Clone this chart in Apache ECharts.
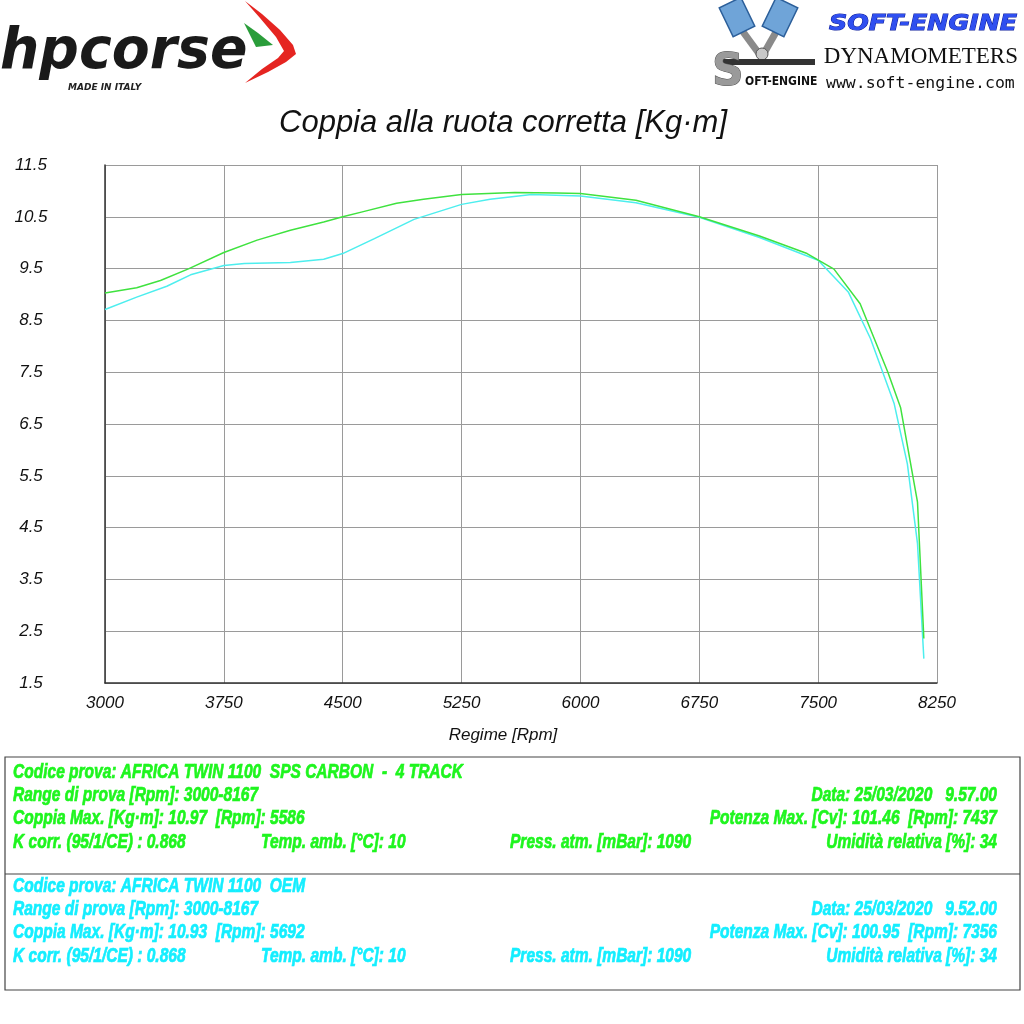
<!DOCTYPE html>
<html>
<head>
<meta charset="utf-8">
<script src="https://cdn.jsdelivr.net/npm/echarts/dist/echarts.min.js"></script>
<style>
html,body{margin:0;padding:0;background:#fff;}
#chart{width:1024px;height:1024px;}
</style>
</head>
<body>
<div id="chart"></div>
<script>
// ---- Data ----
const rpmSps = [3000,3200,3350,3530,3750,3960,4170,4380,4500,4630,4840,5010,5250,5586,5850,6000,6350,6750,7130,7430,7600,7765,7940,8020,8127,8167];
const torqueSps = [9.03,9.13,9.27,9.50,9.81,10.05,10.24,10.40,10.50,10.60,10.76,10.84,10.93,10.97,10.96,10.95,10.82,10.50,10.13,9.79,9.49,8.82,7.50,6.82,4.99,2.36];
const rpmOem = [3000,3200,3390,3540,3750,3880,4170,4380,4500,4700,4950,5250,5430,5692,6000,6350,6750,7130,7500,7690,7830,7980,8063,8127,8167];
const torqueOem = [8.71,8.95,9.16,9.38,9.56,9.60,9.62,9.68,9.79,10.08,10.45,10.74,10.84,10.93,10.90,10.77,10.49,10.10,9.66,9.05,8.15,6.89,5.73,4.19,1.97];
const xMin = 3000, xMax = 8250, xStep = 750;
const yMin = 1.5, yMax = 11.5, yStep = 1;

const titleText = 'Coppia alla ruota corretta [Kg·m]';
const xAxisName = 'Regime [Rpm]';
const spsLines = [
  ['Codice prova: AFRICA TWIN 1100  SPS CARBON  -  4 TRACK', '', '', ''],
  ['Range di prova [Rpm]: 3000-8167', '', '', 'Data: 25/03/2020   9.57.00'],
  ['Coppia Max. [Kg·m]: 10.97  [Rpm]: 5586', '', '', 'Potenza Max. [Cv]: 101.46  [Rpm]: 7437'],
  ['K corr. (95/1/CE) : 0.868', 'Temp. amb. [°C]: 10', 'Press. atm. [mBar]: 1090', 'Umidità relativa [%]: 34']
];
const oemLines = [
  ['Codice prova: AFRICA TWIN 1100  OEM', '', '', ''],
  ['Range di prova [Rpm]: 3000-8167', '', '', 'Data: 25/03/2020   9.52.00'],
  ['Coppia Max. [Kg·m]: 10.93  [Rpm]: 5692', '', '', 'Potenza Max. [Cv]: 100.95  [Rpm]: 7356'],
  ['K corr. (95/1/CE) : 0.868', 'Temp. amb. [°C]: 10', 'Press. atm. [mBar]: 1090', 'Umidità relativa [%]: 34']
];

const GREEN_LINE = '#3fe23f', CYAN_LINE = '#4deeee';
const GREEN_TXT = '#1ef51e', CYAN_TXT = '#14eeff';

const chart = echarts.init(document.getElementById('chart'), null, {renderer:'canvas'});

// condensed look: measure a reference string and squeeze horizontally
const BOX_FONT = 'italic bold 20px "Liberation Sans"';
const mctx = document.createElement('canvas').getContext('2d');
mctx.font = BOX_FONT;
const boxScale = 450 / mctx.measureText(spsLines[0][0]).width;

function boxTexts(lines, y0, color){
  const out = [];
  const xs = [13, 261, 510, 997];
  lines.forEach((row, r) => {
    row.forEach((t, c) => {
      if (!t) return;
      out.push({
        type:'text', x: xs[c], y: y0 + r*23.4, scaleX: boxScale,
        style:{text:t, fill:color, stroke:color, lineWidth:0.7, font:BOX_FONT,
               textAlign: c===3 ? 'right' : 'left', textVerticalAlign:'middle'}
      });
    });
  });
  return out;
}

const graphics = [
  // title
  {type:'text', x:503, y:123, style:{text:titleText, fill:'#111', font:'italic 31px "Liberation Sans"', textAlign:'center', textVerticalAlign:'middle'}},
  // hpcorse logo
  {type:'text', x:0, y:53, scaleX:0.97, style:{text:'hpcorse', fill:'#1a1a1a', font:'italic bold 57px "DejaVu Sans"', textAlign:'left', textVerticalAlign:'middle'}},
  {type:'text', x:68, y:88, style:{text:'MADE IN ITALY', fill:'#222', font:'italic bold 9px "DejaVu Sans"', textAlign:'left', textVerticalAlign:'middle'}},
  {type:'polygon', shape:{points:[[245,1],[262,14],[280,30],[293,45],[296,54],[286,62],[268,72],[245,83],[262,69],[278,58],[284,51],[276,37],[260,18]]}, style:{fill:'#e52521'}},
  {type:'polygon', shape:{points:[[244,23],[258,33],[273,45],[256,47]]}, style:{fill:'#2a9d3a'}},
  // soft-engine logo graphic
  {type:'line', shape:{x1:738,y1:25,x2:760,y2:55}, style:{stroke:'#8a8a8a', lineWidth:7}},
  {type:'line', shape:{x1:780,y1:25,x2:763,y2:55}, style:{stroke:'#8a8a8a', lineWidth:7}},
  {type:'rect', shape:{x:-12,y:-16,width:24,height:32}, x:737, y:17, rotation:0.45, style:{fill:'#6fa4d8', stroke:'#2c5f9a', lineWidth:1.5}},
  {type:'rect', shape:{x:-12,y:-16,width:24,height:32}, x:780, y:17, rotation:-0.45, style:{fill:'#6fa4d8', stroke:'#2c5f9a', lineWidth:1.5}},
  {type:'circle', shape:{cx:762,cy:54,r:6}, style:{fill:'#c8c8c8', stroke:'#555', lineWidth:1}},
  {type:'rect', shape:{x:722,y:59,width:93,height:6}, style:{fill:'#333'}},
  {type:'text', x:712, y:74, style:{text:'S', fill:'#9a9a9a', font:'bold 44px "DejaVu Sans"', textAlign:'left', textVerticalAlign:'middle', stroke:'#555', lineWidth:1}},
  {type:'text', x:745, y:82, style:{text:'OFT-ENGINE', fill:'#111', font:'bold 12px "DejaVu Sans Condensed"', textAlign:'left', textVerticalAlign:'middle'}},
  {type:'text', x:829, y:24, scaleX:1.15, style:{text:'SOFT-ENGINE', fill:'#2f4ff0', stroke:'#0a1a9a', lineWidth:1, font:'italic bold 22px "DejaVu Sans"', textAlign:'left', textVerticalAlign:'middle'}},
  {type:'text', x:1018, y:57, style:{text:'DYNAMOMETERS', fill:'#111', font:'23px "Liberation Serif"', textAlign:'right', textVerticalAlign:'middle'}},
  {type:'text', x:826, y:84, style:{text:'www.soft-engine.com', fill:'#111', font:'16.5px "DejaVu Sans Mono"', textAlign:'left', textVerticalAlign:'middle'}},
  // bottom info box
  {type:'rect', shape:{x:5,y:757,width:1015,height:233}, style:{fill:'none', stroke:'#444', lineWidth:1.2}},
  {type:'line', shape:{x1:5,y1:874,x2:1020,y2:874}, style:{stroke:'#444', lineWidth:1.2}}
].concat(boxTexts(spsLines, 772, GREEN_TXT)).concat(boxTexts(oemLines, 886, CYAN_TXT));

const labelStyle = {fontFamily:'Liberation Sans', fontStyle:'italic', fontSize:17, color:'#111'};

chart.setOption({
  backgroundColor:'#fff',
  animation:false,
  grid:{left:105, right:87, top:165, bottom:341, containLabel:false},
  xAxis:{
    type:'value', min:xMin, max:xMax, interval:xStep,
    name:xAxisName, nameLocation:'middle', nameGap:44,
    nameTextStyle:{fontFamily:'Liberation Sans', fontStyle:'italic', fontSize:17, color:'#111', padding:[0,36,0,0]},
    axisLine:{show:true, lineStyle:{color:'#333', width:1.5}},
    axisTick:{show:false},
    axisLabel:Object.assign({margin:12, formatter:v=>String(v)}, labelStyle),
    splitLine:{show:true, lineStyle:{color:'#9a9a9a', width:1}}
  },
  yAxis:{
    type:'value', min:yMin, max:yMax, interval:yStep,
    axisLine:{show:true, lineStyle:{color:'#333', width:1.5}},
    axisTick:{show:false},
    axisLabel:Object.assign({margin:74, align:'center', formatter:v=>v.toFixed(1)}, labelStyle),
    splitLine:{show:true, lineStyle:{color:'#9a9a9a', width:1}}
  },
  series:[
    {name:'OEM', type:'line', data:rpmOem.map((r,i)=>[r, torqueOem[i]]), showSymbol:false, smooth:false,
     lineStyle:{color:CYAN_LINE, width:1.5}, itemStyle:{color:CYAN_LINE}, z:2},
    {name:'SPS CARBON', type:'line', data:rpmSps.map((r,i)=>[r, torqueSps[i]]), showSymbol:false, smooth:false,
     lineStyle:{color:GREEN_LINE, width:1.5}, itemStyle:{color:GREEN_LINE}, z:3}
  ],
  graphic:graphics
});
</script>
</body>
</html>
